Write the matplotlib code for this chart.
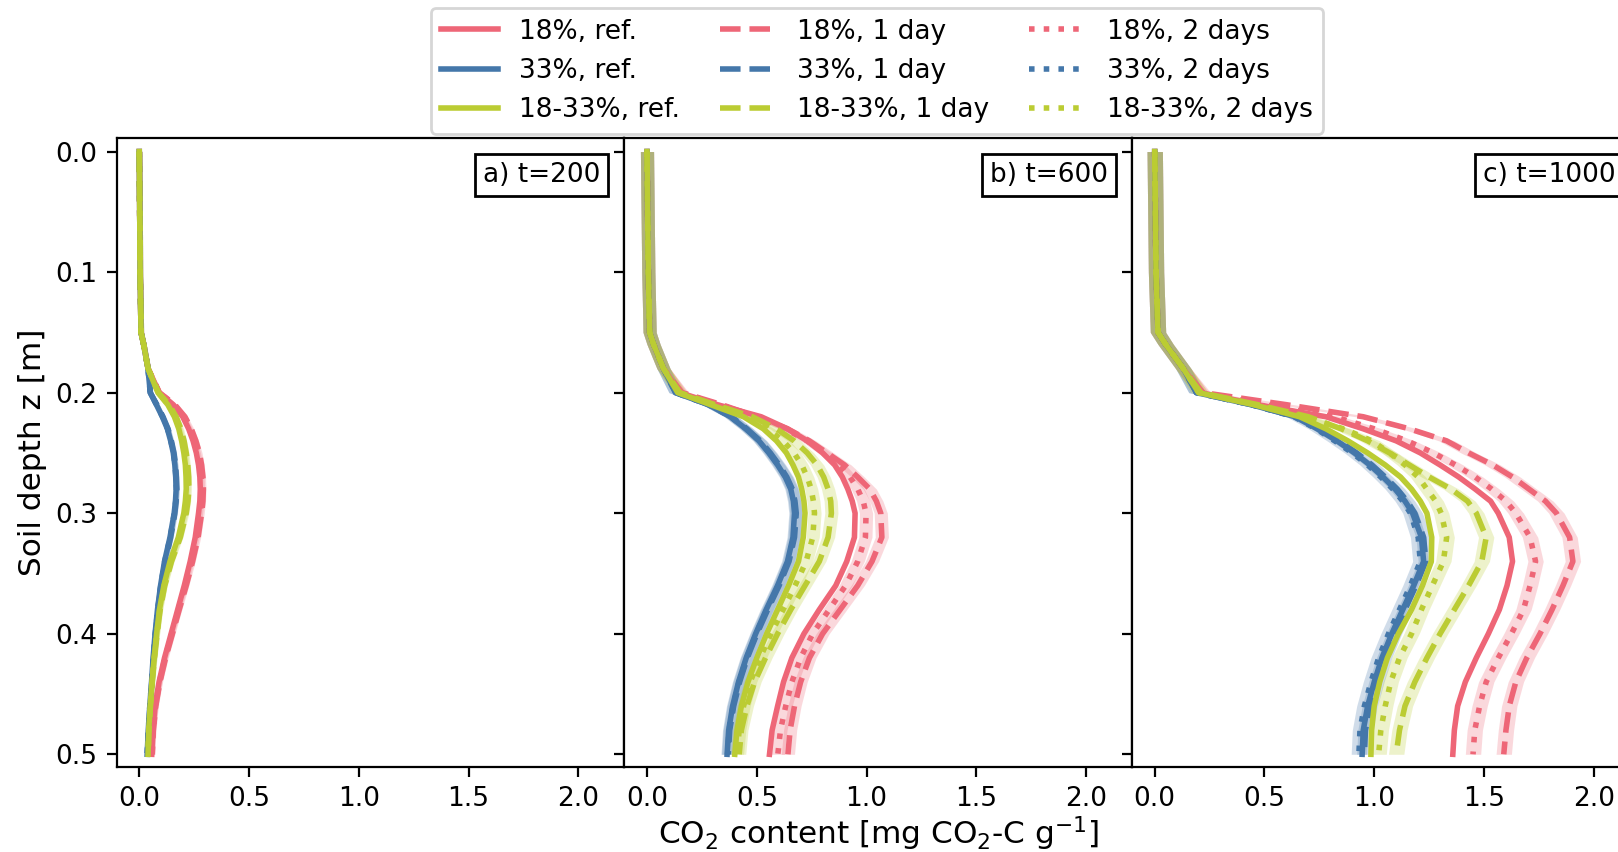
"""
    CO2 content profiles over soil depth for three moisture treatments
"""

import numpy as np
import matplotlib
matplotlib.use('Agg')
import matplotlib.pyplot as plt

# depth grid: shallow part shared by all curves, deep part per curve
depth_top = [0.0, 0.05, 0.10, 0.15, 0.16, 0.18]
depth_low = [0.20, 0.21, 0.22, 0.23, 0.24, 0.25, 0.26, 0.27, 0.28, 0.29, 0.30,
             0.32, 0.34, 0.36, 0.38, 0.40, 0.42, 0.44, 0.46, 0.48, 0.50]

panel_labels = ['a) t=200', 'b) t=600', 'c) t=1000']
band_width = [0.012, 0.03, 0.035]

# t = 200
t200_top = [0.0, 0.002, 0.004, 0.008, 0.02, 0.04]
t200_18_ref = [0.09, 0.155, 0.198, 0.225, 0.245, 0.26, 0.27, 0.276, 0.278, 0.276, 0.27,
               0.255, 0.232, 0.205, 0.175, 0.145, 0.115, 0.09, 0.072, 0.062, 0.057]
t200_18_1d = [0.092, 0.162, 0.208, 0.237, 0.258, 0.274, 0.284, 0.29, 0.292, 0.29, 0.284,
              0.268, 0.243, 0.214, 0.182, 0.151, 0.12, 0.094, 0.075, 0.064, 0.059]
t200_18_2d = [0.091, 0.158, 0.203, 0.231, 0.251, 0.267, 0.277, 0.283, 0.285, 0.283, 0.277,
              0.261, 0.237, 0.209, 0.178, 0.148, 0.117, 0.092, 0.073, 0.063, 0.058]
t200_33_ref = [0.05, 0.078, 0.105, 0.128, 0.143, 0.155, 0.162, 0.166, 0.168, 0.165, 0.159,
               0.14, 0.115, 0.097, 0.083, 0.072, 0.063, 0.056, 0.048, 0.041, 0.036]
t200_33_1d = [0.05, 0.08, 0.108, 0.131, 0.146, 0.158, 0.165, 0.169, 0.171, 0.168, 0.162,
              0.143, 0.118, 0.099, 0.085, 0.074, 0.065, 0.057, 0.049, 0.042, 0.037]
t200_33_2d = [0.05, 0.079, 0.106, 0.129, 0.144, 0.156, 0.163, 0.167, 0.169, 0.166, 0.16,
              0.141, 0.116, 0.098, 0.084, 0.073, 0.064, 0.056, 0.048, 0.041, 0.036]
t200_mix_ref = [0.085, 0.13, 0.16, 0.18, 0.193, 0.203, 0.21, 0.213, 0.214, 0.21, 0.203,
                0.178, 0.14, 0.112, 0.092, 0.079, 0.068, 0.058, 0.05, 0.043, 0.04]
t200_mix_1d = [0.088, 0.136, 0.168, 0.19, 0.204, 0.214, 0.221, 0.225, 0.226, 0.222, 0.214,
               0.187, 0.147, 0.116, 0.095, 0.081, 0.069, 0.059, 0.051, 0.044, 0.041]
t200_mix_2d = [0.087, 0.133, 0.164, 0.185, 0.199, 0.209, 0.216, 0.219, 0.22, 0.216, 0.209,
               0.183, 0.144, 0.114, 0.093, 0.08, 0.068, 0.058, 0.05, 0.043, 0.04]

# t = 600
t600_top = [0.0, 0.003, 0.006, 0.012, 0.03, 0.075]
t600_18_ref = [0.15, 0.32, 0.52, 0.64, 0.73, 0.80, 0.855, 0.89, 0.915, 0.935, 0.948,
               0.945, 0.91, 0.86, 0.785, 0.715, 0.66, 0.622, 0.595, 0.57, 0.558]
t600_18_1d = [0.16, 0.34, 0.50, 0.64, 0.74, 0.82, 0.90, 0.96, 1.015, 1.045, 1.065,
              1.07, 1.025, 0.96, 0.88, 0.80, 0.74, 0.70, 0.672, 0.652, 0.642]
t600_18_2d = [0.155, 0.33, 0.50, 0.63, 0.73, 0.81, 0.875, 0.925, 0.96, 0.985, 0.998,
              0.995, 0.96, 0.905, 0.83, 0.755, 0.70, 0.66, 0.632, 0.608, 0.596]
t600_33_ref = [0.13, 0.28, 0.38, 0.45, 0.51, 0.555, 0.595, 0.63, 0.655, 0.667, 0.672,
               0.665, 0.64, 0.595, 0.543, 0.495, 0.452, 0.417, 0.39, 0.372, 0.365]
t600_33_1d = [0.13, 0.282, 0.384, 0.455, 0.516, 0.562, 0.602, 0.637, 0.662, 0.674, 0.68,
              0.672, 0.647, 0.602, 0.55, 0.501, 0.457, 0.422, 0.395, 0.377, 0.37]
t600_33_2d = [0.13, 0.281, 0.382, 0.452, 0.513, 0.558, 0.598, 0.633, 0.658, 0.67, 0.676,
              0.668, 0.643, 0.598, 0.546, 0.498, 0.454, 0.419, 0.392, 0.374, 0.367]
t600_mix_ref = [0.14, 0.29, 0.44, 0.53, 0.59, 0.635, 0.665, 0.69, 0.705, 0.715, 0.72,
                0.712, 0.69, 0.645, 0.595, 0.545, 0.50, 0.46, 0.43, 0.41, 0.40]
t600_mix_1d = [0.15, 0.31, 0.48, 0.59, 0.67, 0.73, 0.775, 0.805, 0.825, 0.837, 0.84,
               0.825, 0.785, 0.72, 0.655, 0.595, 0.54, 0.49, 0.455, 0.43, 0.42]
t600_mix_2d = [0.145, 0.30, 0.46, 0.55, 0.62, 0.67, 0.705, 0.73, 0.748, 0.758, 0.763,
               0.755, 0.725, 0.675, 0.62, 0.565, 0.515, 0.47, 0.44, 0.42, 0.41]

# t = 1000
t1000_top = [0.0, 0.003, 0.006, 0.015, 0.05, 0.13]
t1000_18_ref = [0.21, 0.47, 0.78, 0.95, 1.10, 1.21, 1.30, 1.385, 1.46, 1.53, 1.565,
                1.615, 1.63, 1.605, 1.57, 1.52, 1.465, 1.415, 1.38, 1.365, 1.358]
t1000_18_1d = [0.22, 0.60, 0.95, 1.16, 1.33, 1.43, 1.54, 1.63, 1.705, 1.78, 1.83,
               1.89, 1.905, 1.86, 1.81, 1.755, 1.695, 1.645, 1.615, 1.60, 1.59]
t1000_18_2d = [0.21, 0.50, 0.82, 1.00, 1.15, 1.27, 1.37, 1.46, 1.535, 1.60, 1.645,
               1.71, 1.735, 1.71, 1.68, 1.625, 1.565, 1.51, 1.48, 1.458, 1.45]
t1000_33_ref = [0.19, 0.44, 0.64, 0.74, 0.83, 0.91, 0.98, 1.04, 1.095, 1.14, 1.175,
                1.215, 1.225, 1.18, 1.13, 1.08, 1.035, 1.0, 0.97, 0.95, 0.945]
t1000_33_1d = [0.19, 0.44, 0.645, 0.75, 0.84, 0.92, 0.99, 1.05, 1.105, 1.15, 1.185,
               1.225, 1.235, 1.19, 1.14, 1.09, 1.045, 1.01, 0.98, 0.96, 0.955]
t1000_33_2d = [0.19, 0.44, 0.635, 0.735, 0.82, 0.90, 0.97, 1.03, 1.085, 1.13, 1.165,
               1.20, 1.21, 1.165, 1.115, 1.065, 1.02, 0.985, 0.955, 0.935, 0.93]
t1000_mix_ref = [0.2, 0.45, 0.66, 0.78, 0.88, 0.97, 1.05, 1.12, 1.17, 1.21, 1.24,
                 1.262, 1.26, 1.22, 1.17, 1.11, 1.06, 1.025, 1.0, 0.988, 0.985]
t1000_mix_1d = [0.21, 0.47, 0.70, 0.85, 0.97, 1.07, 1.16, 1.25, 1.35, 1.425, 1.465,
                1.51, 1.49, 1.43, 1.365, 1.30, 1.24, 1.185, 1.14, 1.115, 1.10]
t1000_mix_2d = [0.2, 0.46, 0.68, 0.86, 0.99, 1.07, 1.14, 1.20, 1.24, 1.28, 1.305,
                1.33, 1.315, 1.265, 1.215, 1.17, 1.115, 1.075, 1.05, 1.03, 1.02]

panels = [
    (t200_top, [(t200_18_ref, t200_18_1d, t200_18_2d),
                (t200_33_ref, t200_33_1d, t200_33_2d),
                (t200_mix_ref, t200_mix_1d, t200_mix_2d)]),
    (t600_top, [(t600_18_ref, t600_18_1d, t600_18_2d),
                (t600_33_ref, t600_33_1d, t600_33_2d),
                (t600_mix_ref, t600_mix_1d, t600_mix_2d)]),
    (t1000_top, [(t1000_18_ref, t1000_18_1d, t1000_18_2d),
                 (t1000_33_ref, t1000_33_1d, t1000_33_2d),
                 (t1000_mix_ref, t1000_mix_1d, t1000_mix_2d)]),
]

soils = ['18%', '33%', '18-33%']
colors = ['#EE6677', '#4477AA', '#BBCC33']
scenarios = ['ref.', '1 day', '2 days']
styles = ['-', '--', ':']


def main():
    plt.rcParams['font.size'] = 9.5
    fig = plt.figure(figsize=(8.09, 4.26), dpi=200)

    left, width = 0.0721, 0.3138
    bottom, height = 0.1001, 0.7376
    depth = np.array(depth_top + depth_low)

    axes = []
    handles = {}
    for i, (top, curves) in enumerate(panels):
        ax = fig.add_axes([left + i * width, bottom, width, height],
                          sharey=axes[0] if axes else None)
        axes.append(ax)
        for s, (soil, col) in enumerate(zip(soils, colors)):
            for k, (scen, ls) in enumerate(zip(scenarios, styles)):
                x = np.array(top + curves[s][k])
                if k > 0:
                    ax.fill_betweenx(depth, x - band_width[i], x + band_width[i],
                                     color=col, alpha=0.25, lw=0)
                ln, = ax.plot(x, depth, color=col, ls=ls, lw=2)
                handles[(k, s)] = (ln, '%s, %s' % (soil, scen))
        ax.set_xlim(-0.103, 2.21)
        ax.set_xticks([0.0, 0.5, 1.0, 1.5, 2.0])
        ax.text(0.953, 0.962, panel_labels[i], transform=ax.transAxes,
                ha='right', va='top',
                bbox=dict(boxstyle='square,pad=0.3', fc='white', ec='black'))
        if i > 0:
            ax.tick_params(labelleft=False)

    axes[0].set_ylim(0.5103, -0.011)
    axes[0].set_yticks([0.0, 0.1, 0.2, 0.3, 0.4, 0.5])
    axes[0].set_ylabel('Soil depth z [m]', fontsize=11.2, labelpad=3)
    axes[1].set_xlabel('CO$_2$ content [mg CO$_2$-C g$^{-1}$]', fontsize=11.2,
                       labelpad=1)

    order = [handles[(k, s)] for k in range(3) for s in range(3)]
    fig.legend([h for h, _ in order], [l for _, l in order], ncol=3,
               loc='upper center', bbox_to_anchor=(0.542, 1.006),
               handlelength=2.15, columnspacing=1.5)

    fig.savefig('out.png', dpi=200)


if __name__ == '__main__':
    main()
